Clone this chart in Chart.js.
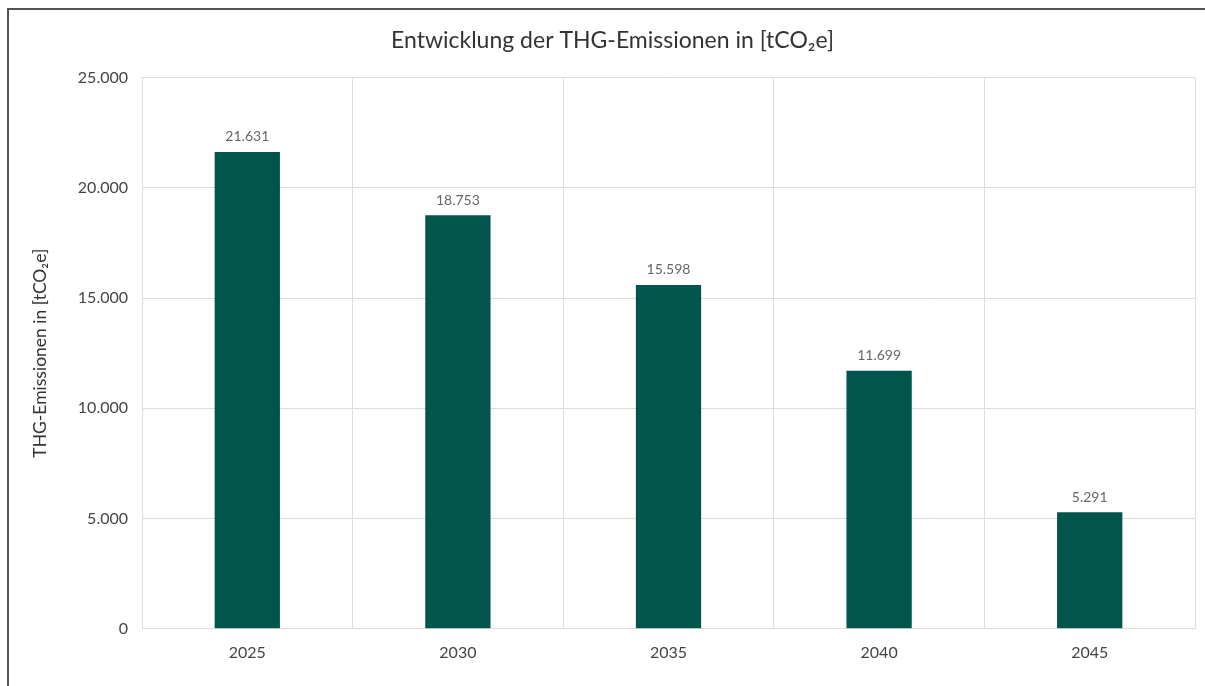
<!DOCTYPE html>
<html lang="de">
<head>
  <meta charset="UTF-8">
  <title>Entwicklung der THG-Emissionen</title>
  <style>
    body {
      margin: 0;
      background: #ffffff;
      font-family: Lato, Arial, sans-serif;
    }
    #frame {
      position: absolute;
      left: 7px;
      top: 8px;
      width: 1198px;
      height: 678px;
      border-left: 2px solid #555555;
      border-top: 2px solid #555555;
    }
    #chartBox {
      position: absolute;
      left: 0;
      top: 0;
      width: 1205px;
      height: 686px;
    }
  </style>
  <script src="https://cdn.jsdelivr.net/npm/chart.js"></script>
</head>
<body>
  <div id="frame"></div>
  <div id="chartBox">
    <canvas id="emissionChart"></canvas>
  </div>

  <script>
    // Daten
    var jahre = ['2025', '2030', '2035', '2040', '2045'];
    var emissionen = [21631, 18753, 15598, 11699, 5291];
    var yTicks = [0, 5000, 10000, 15000, 20000, 25000];

    var titelText = 'Entwicklung der THG-Emissionen in [tCO\u2082e]';
    var achsenText = 'THG-Emissionen in [tCO\u2082e]';

    function formatDE(v) {
      return String(Math.round(v)).replace(/\B(?=(\d{3})+(?!\d))/g, '.');
    }

    // Werte über den Balken
    var barLabels = {
      id: 'barLabels',
      afterDatasetsDraw: function(chart) {
        var ctx = chart.ctx;
        var meta = chart.getDatasetMeta(0);
        ctx.save();
        ctx.font = '14px Lato, Arial, sans-serif';
        ctx.fillStyle = '#666666';
        ctx.textAlign = 'center';
        ctx.textBaseline = 'bottom';
        meta.data.forEach(function(bar, i) {
          ctx.fillText(formatDE(emissionen[i]), bar.x, bar.y - 8);
        });
        ctx.restore();
      }
    };

    var ctxEm = document.getElementById('emissionChart').getContext('2d');
    var emissionChart = new Chart(ctxEm, {
      type: 'bar',
      data: {
        labels: jahre,
        datasets: [{
          label: 'THG-Emissionen',
          data: emissionen,
          backgroundColor: '#02554d',
          borderWidth: 0,
          barPercentage: 1,
          categoryPercentage: 0.31
        }]
      },
      options: {
        responsive: true,
        maintainAspectRatio: false,
        animation: false,
        layout: {
          padding: { left: 30, right: 10, top: 12, bottom: 10 }
        },
        plugins: {
          legend: { display: false },
          tooltip: { enabled: false },
          title: {
            display: true,
            text: titelText,
            color: '#333333',
            font: { family: 'Lato, Arial, sans-serif', size: 23, weight: 'normal' },
            padding: { top: 15, bottom: 23 }
          }
        },
        scales: {
          x: {
            grid: { color: '#dddddd', drawTicks: false, offset: true },
            border: { color: '#dddddd' },
            ticks: {
              color: '#444444',
              font: { family: 'Lato, Arial, sans-serif', size: 16 },
              padding: 14
            }
          },
          y: {
            min: 0,
            max: 25000,
            afterFit: function(scale) { scale.width = 112; },
            afterBuildTicks: function(scale) {
              scale.ticks = yTicks.map(function(v) { return { value: v }; });
            },
            grid: { color: '#dddddd', drawTicks: false },
            border: { display: false },
            ticks: {
              color: '#444444',
              font: { family: 'Lato, Arial, sans-serif', size: 16 },
              padding: 14,
              callback: function(v) { return formatDE(v); }
            },
            title: {
              display: true,
              text: achsenText,
              color: '#333333',
              font: { family: 'Lato, Arial, sans-serif', size: 17.5 },
              padding: { top: 0, bottom: 0 }
            }
          }
        }
      },
      plugins: [barLabels]
    });
  </script>
</body>
</html>
